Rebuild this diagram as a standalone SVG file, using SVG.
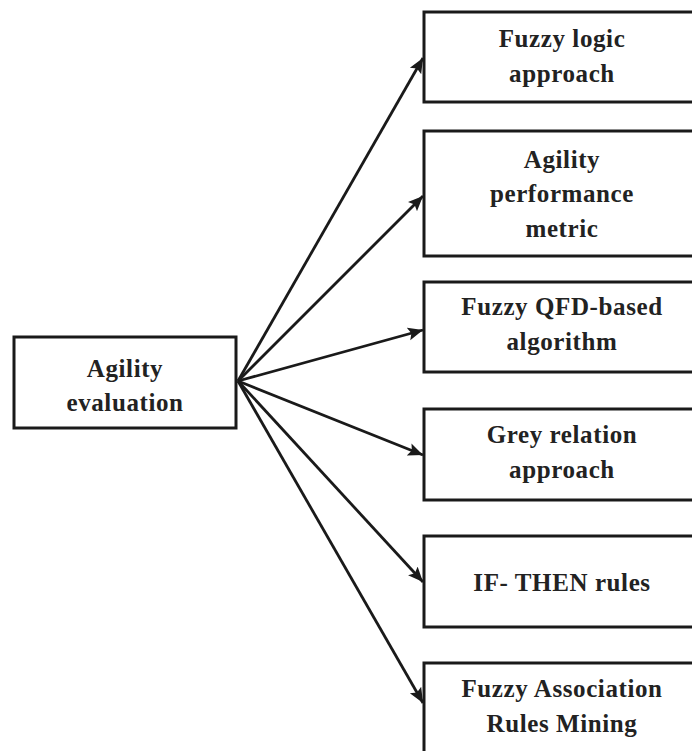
<svg xmlns="http://www.w3.org/2000/svg" width="692" height="751" viewBox="0 0 692 751">
<defs>
<marker id="ah" markerUnits="userSpaceOnUse" markerWidth="18" markerHeight="14" refX="15" refY="7" orient="auto">
<path d="M0,0.5 L15,7 L0,13.5 L3,7 Z" fill="#1a1a1a"/>
</marker>
<style>
.box{fill:#fff;stroke:#1a1a1a;stroke-width:3}
.t{font-family:"Liberation Serif","Times New Roman",serif;font-weight:bold;font-size:25px;letter-spacing:0.6px;fill:#222;text-anchor:middle}
.c{stroke:#1a1a1a;stroke-width:2.8;fill:none;marker-end:url(#ah)}
</style>
</defs>
<rect width="692" height="751" fill="#fff"/>
<g id="connectors">
<line class="c" x1="238" y1="381" x2="423" y2="58"/>
<line class="c" x1="238" y1="381" x2="423" y2="196"/>
<line class="c" x1="238" y1="381" x2="423" y2="330"/>
<line class="c" x1="238" y1="381" x2="423" y2="455"/>
<line class="c" x1="238" y1="381" x2="423" y2="582"/>
<line class="c" x1="238" y1="381" x2="423" y2="703"/>
</g>
<g id="n0">
<rect class="box" x="14" y="337" width="222" height="91"/>
<text class="t" x="125" y="377">Agility</text>
<text class="t" x="125" y="411">evaluation</text>
</g>
<g id="n1">
<rect class="box" x="424" y="12" width="280" height="90"/>
<text class="t" x="562" y="47">Fuzzy logic</text>
<text class="t" x="562" y="82">approach</text>
</g>
<g id="n2">
<rect class="box" x="424" y="131" width="280" height="125"/>
<text class="t" x="562" y="168">Agility</text>
<text class="t" x="562" y="202">performance</text>
<text class="t" x="562" y="237">metric</text>
</g>
<g id="n3">
<rect class="box" x="424" y="282" width="280" height="90"/>
<text class="t" x="562" y="315">Fuzzy QFD-based</text>
<text class="t" x="562" y="350">algorithm</text>
</g>
<g id="n4">
<rect class="box" x="424" y="409" width="280" height="91"/>
<text class="t" x="562" y="443">Grey relation</text>
<text class="t" x="562" y="478">approach</text>
</g>
<g id="n5">
<rect class="box" x="424" y="536" width="280" height="91"/>
<text class="t" x="562" y="591">IF- THEN rules</text>
</g>
<g id="n6">
<rect class="box" x="424" y="663" width="280" height="100"/>
<text class="t" x="562" y="697">Fuzzy Association</text>
<text class="t" x="562" y="732">Rules Mining</text>
</g>
</svg>
